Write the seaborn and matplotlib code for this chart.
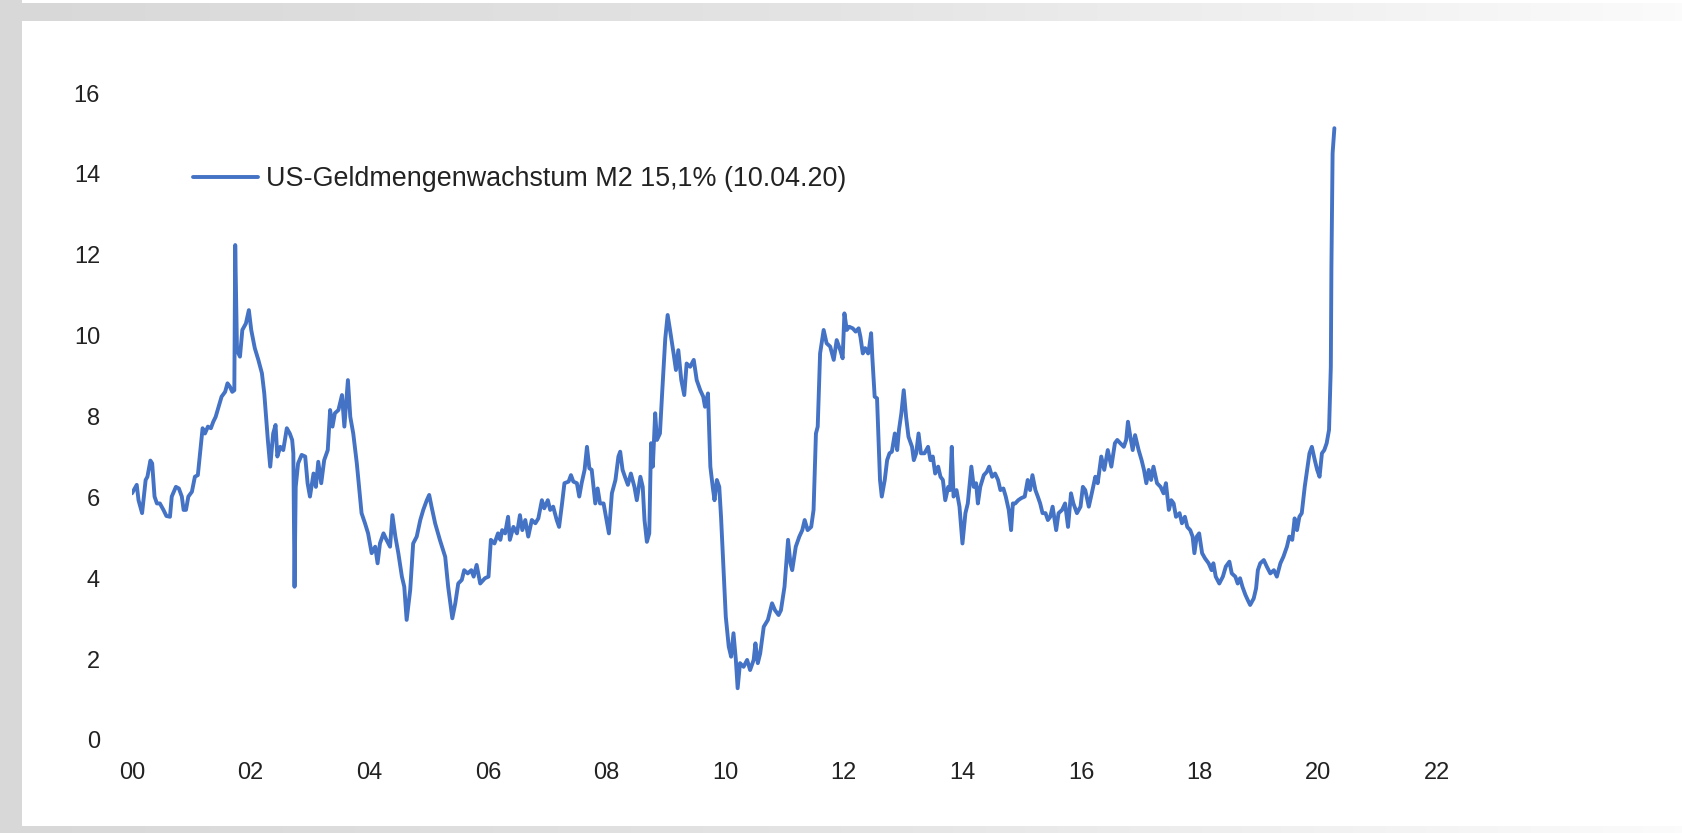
import numpy as np
import matplotlib.pyplot as plt
import seaborn as sns
from matplotlib.colors import LinearSegmentedColormap
from matplotlib.patches import Rectangle

# weekly-ish readings of US M2 growth (% y/y)
years = [
    2000.00, 2000.08, 2000.11, 2000.17, 2000.23, 2000.26, 2000.31, 2000.34, 2000.38, 2000.42,
    2000.47, 2000.53, 2000.58, 2000.64, 2000.67, 2000.74, 2000.79, 2000.84, 2000.87, 2000.91,
    2000.95, 2001.01, 2001.06, 2001.11, 2001.19, 2001.23, 2001.28, 2001.33, 2001.37, 2001.41,
    2001.46, 2001.51, 2001.57, 2001.61, 2001.65, 2001.69, 2001.725, 2001.74, 2001.77, 2001.82,
    2001.86, 2001.92, 2001.97, 2002.01, 2002.07, 2002.13, 2002.19, 2002.23, 2002.29, 2002.33,
    2002.38, 2002.42, 2002.45, 2002.50, 2002.55, 2002.61, 2002.66, 2002.70, 2002.72, 2002.74,
    2002.76, 2002.80, 2002.86, 2002.92, 2002.96, 2003.00, 2003.06, 2003.10, 2003.14, 2003.19,
    2003.24, 2003.30, 2003.34, 2003.38, 2003.42, 2003.48, 2003.54, 2003.58, 2003.64, 2003.68,
    2003.73, 2003.79, 2003.87, 2003.93, 2003.98, 2004.04, 2004.10, 2004.14, 2004.18, 2004.24,
    2004.29, 2004.35, 2004.39, 2004.44, 2004.49, 2004.55, 2004.59, 2004.63, 2004.69, 2004.74,
    2004.80, 2004.86, 2004.91, 2004.97, 2005.01, 2005.05, 2005.11, 2005.19, 2005.28, 2005.33,
    2005.40, 2005.45, 2005.50, 2005.56, 2005.60, 2005.66, 2005.72, 2005.76, 2005.81, 2005.87,
    2005.95, 2006.01, 2006.05, 2006.11, 2006.17, 2006.21, 2006.24, 2006.29, 2006.34, 2006.37,
    2006.43, 2006.49, 2006.54, 2006.58, 2006.63, 2006.68, 2006.74, 2006.80, 2006.85, 2006.91,
    2006.95, 2007.01, 2007.05, 2007.10, 2007.16, 2007.20, 2007.25, 2007.29, 2007.36, 2007.40,
    2007.44, 2007.50, 2007.54, 2007.58, 2007.63, 2007.67, 2007.71, 2007.75, 2007.81, 2007.85,
    2007.89, 2007.95, 2007.99, 2008.04, 2008.09, 2008.15, 2008.20, 2008.23, 2008.27, 2008.31,
    2008.36, 2008.41, 2008.47, 2008.51, 2008.57, 2008.61, 2008.64, 2008.68, 2008.72, 2008.75,
    2008.78, 2008.82, 2008.85, 2008.90, 2008.94, 2008.99, 2009.03, 2009.07, 2009.13, 2009.17,
    2009.21, 2009.26, 2009.31, 2009.35, 2009.41, 2009.47, 2009.52, 2009.58, 2009.63, 2009.66,
    2009.71, 2009.75, 2009.79, 2009.82, 2009.86, 2009.90, 2009.93, 2009.97, 2010.01, 2010.06,
    2010.10, 2010.14, 2010.18, 2010.21, 2010.25, 2010.31, 2010.37, 2010.42, 2010.48, 2010.51,
    2010.55, 2010.59, 2010.65, 2010.72, 2010.79, 2010.84, 2010.90, 2010.94, 2011.00, 2011.06,
    2011.10, 2011.13, 2011.19, 2011.25, 2011.30, 2011.34, 2011.39, 2011.45, 2011.49, 2011.53,
    2011.56, 2011.60, 2011.66, 2011.71, 2011.77, 2011.83, 2011.88, 2011.94, 2011.98, 2012.01,
    2012.05, 2012.09, 2012.15, 2012.20, 2012.25, 2012.28, 2012.32, 2012.36, 2012.41, 2012.43,
    2012.46, 2012.48, 2012.52, 2012.56, 2012.59, 2012.61, 2012.64, 2012.69, 2012.73, 2012.77,
    2012.81, 2012.86, 2012.90, 2012.93, 2012.97, 2013.01, 2013.05, 2013.09, 2013.15, 2013.18,
    2013.22, 2013.26, 2013.30, 2013.36, 2013.42, 2013.46, 2013.50, 2013.54, 2013.59, 2013.63,
    2013.67, 2013.71, 2013.76, 2013.79, 2013.82, 2013.85, 2013.90, 2013.95, 2014.00, 2014.05,
    2014.09, 2014.15, 2014.19, 2014.23, 2014.26, 2014.30, 2014.36, 2014.41, 2014.45, 2014.50,
    2014.55, 2014.60, 2014.64, 2014.69, 2014.73, 2014.78, 2014.82, 2014.85, 2014.89, 2014.94,
    2014.99, 2015.05, 2015.10, 2015.14, 2015.18, 2015.23, 2015.27, 2015.31, 2015.35, 2015.40,
    2015.44, 2015.48, 2015.52, 2015.58, 2015.62, 2015.68, 2015.73, 2015.78, 2015.83, 2015.87,
    2015.93, 2015.99, 2016.03, 2016.07, 2016.13, 2016.18, 2016.24, 2016.28, 2016.34, 2016.39,
    2016.45, 2016.51, 2016.57, 2016.61, 2016.66, 2016.72, 2016.76, 2016.79, 2016.83, 2016.87,
    2016.91, 2016.97, 2017.02, 2017.06, 2017.10, 2017.14, 2017.18, 2017.22, 2017.28, 2017.34,
    2017.39, 2017.43, 2017.48, 2017.52, 2017.56, 2017.60, 2017.66, 2017.70, 2017.75, 2017.79,
    2017.84, 2017.88, 2017.91, 2017.95, 2017.99, 2018.04, 2018.09, 2018.15, 2018.20, 2018.23,
    2018.27, 2018.33, 2018.39, 2018.44, 2018.50, 2018.54, 2018.60, 2018.64, 2018.68, 2018.72,
    2018.77, 2018.81, 2018.85, 2018.91, 2018.95, 2018.98, 2019.02, 2019.08, 2019.13, 2019.19,
    2019.25, 2019.30, 2019.36, 2019.41, 2019.47, 2019.51, 2019.56, 2019.60, 2019.64, 2019.68,
    2019.72, 2019.77, 2019.81, 2019.85, 2019.89, 2019.94, 2019.98, 2020.02, 2020.06, 2020.10,
    2020.14, 2020.18, 2020.21, 2020.22, 2020.24, 2020.27,
]
m2_growth = [
    6.10, 6.31, 5.93, 5.61, 6.43, 6.51, 6.91, 6.84, 6.02, 5.85,
    5.85, 5.69, 5.54, 5.52, 6.02, 6.26, 6.22, 6.02, 5.69, 5.69,
    6.02, 6.14, 6.51, 6.55, 7.71, 7.58, 7.75, 7.71, 7.87, 7.99,
    8.24, 8.49, 8.61, 8.82, 8.74, 8.61, 8.65, 12.24, 9.64, 9.48,
    10.14, 10.30, 10.63, 10.14, 9.69, 9.40, 9.07, 8.57, 7.42, 6.76,
    7.58, 7.79, 7.01, 7.25, 7.17, 7.71, 7.58, 7.42, 7.09, 3.79,
    6.26, 6.84, 7.05, 7.01, 6.35, 6.02, 6.59, 6.26, 6.88, 6.35,
    6.92, 7.17, 8.16, 7.75, 8.08, 8.16, 8.53, 7.75, 8.90, 7.99,
    7.58, 6.84, 5.61, 5.35, 5.11, 4.62, 4.78, 4.37, 4.86, 5.11,
    4.95, 4.78, 5.56, 5.03, 4.62, 4.04, 3.79, 2.97, 3.71, 4.86,
    5.03, 5.44, 5.69, 5.93, 6.06, 5.77, 5.36, 4.95, 4.53, 3.79,
    3.01, 3.38, 3.87, 3.96, 4.20, 4.12, 4.20, 4.04, 4.33, 3.87,
    4.00, 4.04, 4.95, 4.86, 5.11, 4.95, 5.19, 5.11, 5.52, 4.95,
    5.27, 5.11, 5.56, 5.19, 5.44, 5.03, 5.44, 5.36, 5.48, 5.93,
    5.73, 5.93, 5.69, 5.77, 5.44, 5.27, 5.85, 6.35, 6.39, 6.55,
    6.39, 6.35, 6.02, 6.35, 6.68, 7.25, 6.72, 6.68, 5.85, 6.22,
    5.85, 5.85, 5.52, 5.11, 6.10, 6.43, 7.01, 7.13, 6.68, 6.51,
    6.31, 6.59, 6.26, 5.93, 6.51, 6.26, 5.44, 4.90, 5.11, 7.34,
    6.76, 8.08, 7.42, 7.58, 8.65, 9.93, 10.51, 10.14, 9.56, 9.15,
    9.64, 8.90, 8.53, 9.31, 9.23, 9.40, 8.90, 8.65, 8.49, 8.24,
    8.57, 6.76, 6.26, 5.93, 6.43, 6.26, 5.52, 4.29, 3.05, 2.31,
    2.06, 2.64, 1.98, 1.28, 1.90, 1.81, 1.98, 1.73, 1.98, 2.39,
    1.90, 2.14, 2.80, 2.97, 3.38, 3.21, 3.09, 3.21, 3.79, 4.95,
    4.37, 4.20, 4.78, 5.03, 5.19, 5.44, 5.19, 5.27, 5.69, 7.58,
    7.75, 9.56, 10.14, 9.81, 9.73, 9.40, 9.89, 9.64, 9.44, 10.55,
    10.14, 10.22, 10.18, 10.10, 10.18, 9.97, 9.56, 9.69, 9.56, 9.73,
    10.06, 9.48, 8.49, 8.45, 7.25, 6.43, 6.02, 6.43, 6.92, 7.09,
    7.13, 7.58, 7.17, 7.67, 8.08, 8.65, 7.99, 7.50, 7.25, 6.92,
    7.09, 7.58, 7.09, 7.09, 7.25, 6.92, 7.01, 6.59, 6.76, 6.51,
    6.43, 5.93, 6.26, 6.18, 7.25, 6.02, 6.18, 5.77, 4.86, 5.61,
    5.85, 6.76, 6.26, 6.35, 5.85, 6.26, 6.55, 6.63, 6.76, 6.51,
    6.59, 6.43, 6.18, 6.22, 6.02, 5.69, 5.19, 5.85, 5.85, 5.93,
    5.98, 6.02, 6.43, 6.18, 6.55, 6.18, 6.02, 5.85, 5.61, 5.61,
    5.44, 5.52, 5.77, 5.19, 5.61, 5.69, 5.85, 5.27, 6.10, 5.85,
    5.61, 5.77, 6.26, 6.18, 5.77, 6.10, 6.51, 6.35, 7.01, 6.68,
    7.17, 6.76, 7.34, 7.42, 7.34, 7.25, 7.42, 7.87, 7.50, 7.17,
    7.54, 7.17, 6.92, 6.68, 6.35, 6.68, 6.43, 6.76, 6.35, 6.26,
    6.10, 6.35, 5.69, 5.93, 5.85, 5.52, 5.61, 5.36, 5.52, 5.27,
    5.19, 5.03, 4.62, 5.03, 5.11, 4.62, 4.49, 4.37, 4.20, 4.37,
    4.04, 3.87, 4.04, 4.29, 4.41, 4.12, 4.04, 3.87, 4.00, 3.79,
    3.59, 3.46, 3.34, 3.50, 3.75, 4.20, 4.37, 4.45, 4.29, 4.12,
    4.20, 4.04, 4.37, 4.53, 4.78, 5.03, 4.95, 5.48, 5.19, 5.52,
    5.61, 6.26, 6.68, 7.09, 7.25, 6.92, 6.68, 6.51, 7.09, 7.17,
    7.34, 7.67, 9.23, 11.70, 14.51, 15.13,
]
series_label = "US-Geldmengenwachstum M2 15,1% (10.04.20)"
x_ticks = list(range(2000, 2023, 2))
x_ticklabels = [f"{y % 100:02d}" for y in x_ticks]
y_ticks = list(range(0, 17, 2))

W, H = 1682, 833
line_blue = "#4472C4"
text_col = "#222222"

sns.set_style("white")
plt.rcParams['font.family'] = ['Liberation Sans', 'DejaVu Sans']

fig = plt.figure(figsize=(W / 100, H / 100), dpi=100)

# grey frame around the screenshot (left solid, top/bottom fading out)
bg = fig.add_axes([0, 0, 1, 1], zorder=-1)
bg.set_xlim(0, W)
bg.set_ylim(H, 0)
bg.axis('off')
fade = LinearSegmentedColormap.from_list('fade', ['#d8d8d8', '#e4e4e4', '#fbfbfb'])
grad = np.linspace(0, 1, 256)[None, :]
bg.imshow(grad, cmap=fade, extent=(0, W, 21, 3), aspect='auto')
bg.imshow(grad, cmap=fade, extent=(0, W, H, 826), aspect='auto')
bg.add_patch(Rectangle((0, 0), 22, H, color='#d8d8d8', lw=0))

ax = fig.add_axes([132 / W, (H - 740) / H, (1437 - 132) / W, (740 - 93) / H])
ax.set_facecolor('none')
sns.lineplot(x=years, y=m2_growth, ax=ax, color=line_blue, linewidth=2.8,
             estimator=None, label=series_label)

ax.set_xlim(2000, 2022)
ax.set_ylim(0, 16)
ax.set_xticks(x_ticks)
ax.set_xticklabels(x_ticklabels)
ax.set_yticks(y_ticks)
ax.tick_params(axis='y', length=0, labelsize=17, colors=text_col, pad=23)
ax.tick_params(axis='x', length=0, labelsize=17, colors=text_col, pad=16)
ax.set_xlabel('')
ax.set_ylabel('')
ax.grid(False)
sns.despine(ax=ax, left=True, bottom=True)

leg = ax.legend(loc='center left', bbox_to_anchor=(193 / W, (H - 179) / H),
                bbox_transform=fig.transFigure, frameon=False, fontsize=19.4,
                handlelength=2.4, handletextpad=0.3, borderpad=0, borderaxespad=0)
for t in leg.get_texts():
    t.set_color(text_col)

fig.savefig('out.png', dpi=100, facecolor='white')
